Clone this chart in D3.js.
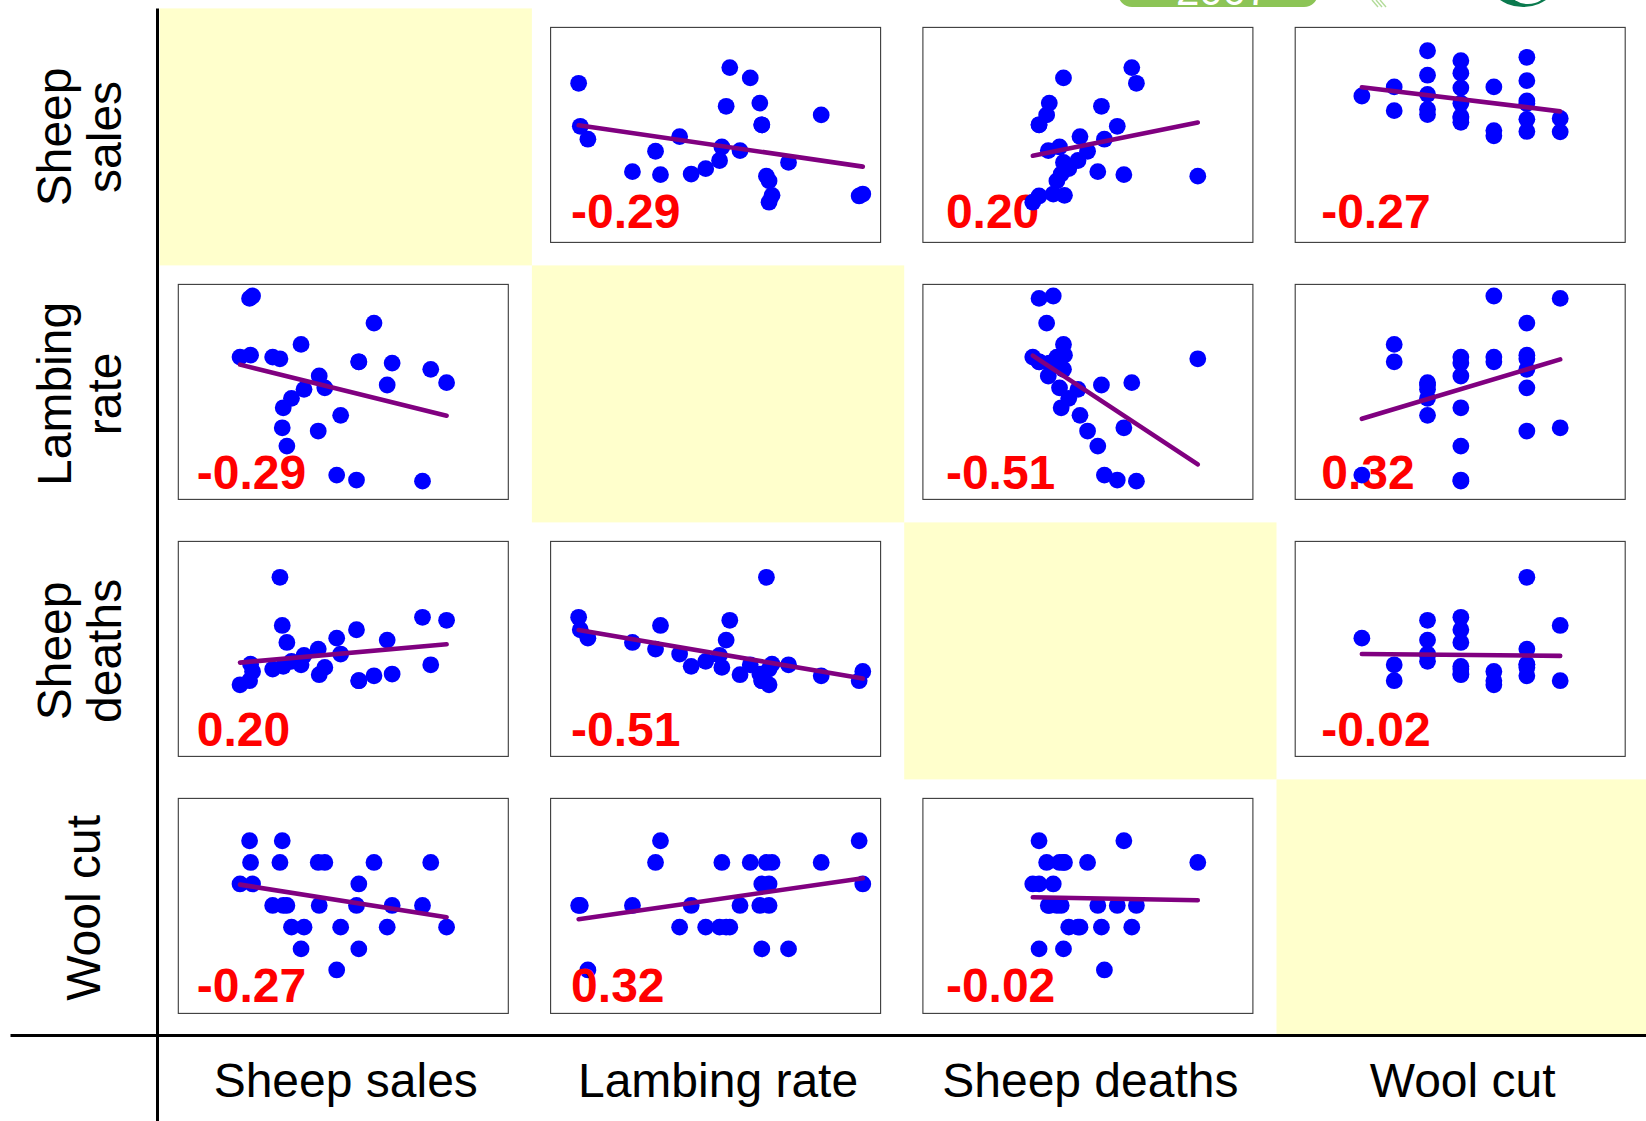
<!DOCTYPE html>
<html>
<head>
<meta charset="utf-8">
<script src="https://cdn.jsdelivr.net/npm/d3@7"></script>
<style>
  html, body { margin: 0; padding: 0; background: #ffffff; }
  svg { display: block; }
</style>
</head>
<body>
<svg id="chart" width="1646" height="1121"></svg>
<script>
// ---------------- data (relative index units, 0-100) ----------------
const variables = ["Sheep sales", "Lambing rate", "Sheep deaths", "Wool cut"];
const rowLabelLines = [["Sheep", "sales"], ["Lambing", "rate"], ["Sheep", "deaths"], ["Wool cut"]];

const sheepSales  = [18.7, 21.6, 22.5, 21.9, 28.6, 30.8, 31.5, 31.8, 32.9, 34.3, 37.2, 38.1, 42.4,
                     42.7, 44.4, 48.0, 49.2, 54.0, 54.7, 54.7, 59.3, 63.3, 64.8, 74.0, 76.5, 81.3];
const lambingRate = [66.2, 93.5, 94.6, 67.1, 66.2, 65.4, 33.3, 42.6, 24.8, 47.0, 72.1, 51.2, 31.8,
                     57.4, 51.9, 11.3, 39.1, 9.0, 64.0, 64.0, 82.0, 53.2, 63.4, 8.5, 60.5, 54.3];
const sheepDeaths = [33.3, 35.2, 39.5, 42.9, 40.6, 83.3, 60.9, 41.9, 53.0, 44.2, 42.6, 47.0, 49.9,
                     38.0, 41.4, 55.0, 47.6, 58.9, 35.2, 35.2, 37.5, 54.1, 38.3, 64.7, 42.6, 63.3];
const woolCut     = [60.2, 80.3, 60.2, 70.2, 50.2, 70.2, 80.3, 50.2, 50.2, 40.1, 30.0, 40.1, 70.2,
                     50.2, 70.2, 20.2, 40.1, 50.2, 60.2, 30.0, 70.2, 40.1, 50.2, 50.2, 70.2, 40.1];

// printed correlation coefficients (row, column)
const correlations = [
  [null, -0.29, 0.20, -0.27],
  [-0.29, null, -0.51, 0.32],
  [0.20, -0.51, null, -0.02],
  [-0.27, 0.32, -0.02, null]
];
const valueDomain = [0, 100];
// the Sheep sales / Wool cut panel uses a wider vertical range
const panelYDomain = { "0-3": [-59.8, 98.5] };

// ---------------- layout ----------------
const series = [sheepSales, lambingRate, sheepDeaths, woolCut];
const W = 1646, H = 1121;
const gridLeft = 159.6, gridTop = 8.4, cellW = 372.3, cellH = 257;
const boxDX = 18.7, boxDY = 19, boxW = 330, boxH = 215;
const labelDX = [18.5, 20.5, 23, 26];
const labelDY = [14, 10, 10, 11];
const FONT = "'Liberation Sans', Arial, Helvetica, sans-serif";

const svg = d3.select("#chart");
svg.append("rect").attr("width", W).attr("height", H).attr("fill", "#ffffff");

// decorative remnants at the top edge
const deco = svg.append("g");
deco.append("rect").attr("x", 1118).attr("y", -30).attr("width", 200).attr("height", 37)
  .attr("rx", 14).attr("fill", "#8cc456");
deco.append("text").attr("x", 1176).attr("y", 5).attr("font-family", FONT)
  .attr("font-size", 42).attr("fill", "#ffffff").text("2007");
[0, 1, 2].forEach(k => {
  deco.append("line").attr("x1", 1372 + k * 4).attr("y1", 0).attr("x2", 1378 + k * 4).attr("y2", 7)
    .attr("stroke", "#b3dc9a").attr("stroke-width", 1.4);
});
deco.append("ellipse").attr("cx", 1523).attr("cy", -34).attr("rx", 41).attr("ry", 41).attr("fill", "#0b7a4e");
deco.append("ellipse").attr("cx", 1528).attr("cy", -9).attr("rx", 18).attr("ry", 13).attr("fill", "#ffffff");

function fit(xs, ys) {
  const mx = d3.mean(xs), my = d3.mean(ys);
  let sxy = 0, sxx = 0;
  xs.forEach((x, k) => { sxy += (x - mx) * (ys[k] - my); sxx += (x - mx) * (x - mx); });
  const b = sxy / sxx;
  return { a: my - b * mx, b };
}

const fmt = v => v.toFixed(2);

for (let i = 0; i < 4; i++) {
  for (let j = 0; j < 4; j++) {
    const cx = gridLeft + j * cellW, cy = gridTop + i * cellH;
    if (i === j) {
      svg.append("rect").attr("x", cx).attr("y", cy).attr("width", cellW).attr("height", cellH)
        .attr("fill", "#ffffcc");
      continue;
    }
    const bx = cx + boxDX, by = cy + boxDY;
    const x = d3.scaleLinear().domain(valueDomain).range([bx, bx + boxW]);
    const y = d3.scaleLinear().domain(panelYDomain[i + "-" + j] || valueDomain).range([by + boxH, by]);
    const xs = series[j], ys = series[i];
    const pts = xs.map((v, k) => [v, ys[k]]);
    const g = svg.append("g");
    g.append("rect").attr("x", bx).attr("y", by).attr("width", boxW).attr("height", boxH)
      .attr("fill", "#ffffff").attr("stroke", "#3a3a3a").attr("stroke-width", 1.1);

    const drawText = () => g.append("text")
      .attr("x", bx + labelDX[j]).attr("y", by + boxH - labelDY[i])
      .attr("font-family", FONT).attr("font-weight", "bold").attr("font-size", 48)
      .attr("fill", "#ff0000").text(fmt(correlations[i][j]));
    const drawDots = () => g.append("g").selectAll("circle").data(pts).join("circle")
      .attr("cx", d => x(d[0])).attr("cy", d => y(d[1])).attr("r", 8.4).attr("fill", "#0000ff");
    const drawLine = () => {
      const f = fit(xs, ys);
      const [x0, x1] = d3.extent(xs);
      g.append("line").attr("x1", x(x0)).attr("y1", y(f.a + f.b * x0))
        .attr("x2", x(x1)).attr("y2", y(f.a + f.b * x1))
        .attr("stroke", "#800080").attr("stroke-width", 4.6).attr("stroke-linecap", "round");
    };
    if (i < j) { drawText(); drawDots(); drawLine(); }
    else { drawDots(); drawLine(); drawText(); }
  }
}

// frame lines
svg.append("line").attr("x1", 157.5).attr("y1", 8.4).attr("x2", 157.5).attr("y2", H)
  .attr("stroke", "#000").attr("stroke-width", 3);
svg.append("line").attr("x1", 10.5).attr("y1", 1035.5).attr("x2", W).attr("y2", 1035.5)
  .attr("stroke", "#000").attr("stroke-width", 3);

// column labels
variables.forEach((name, j) => {
  svg.append("text").attr("x", gridLeft + j * cellW + cellW / 2).attr("y", 1097)
    .attr("text-anchor", "middle").attr("font-family", FONT).attr("font-size", 48)
    .attr("fill", "#000").text(name);
});

// row labels (rotated)
rowLabelLines.forEach((lines, i) => {
  const centerY = gridTop + i * cellH + cellH / 2;
  const baselines = lines.length === 1 ? [100] : [71, 121];
  lines.forEach((ln, k) => {
    svg.append("text")
      .attr("transform", `translate(${baselines[k]},${centerY}) rotate(-90)`)
      .attr("text-anchor", "middle").attr("font-family", FONT).attr("font-size", 48)
      .attr("fill", "#000").text(ln);
  });
});
</script>
</body>
</html>
